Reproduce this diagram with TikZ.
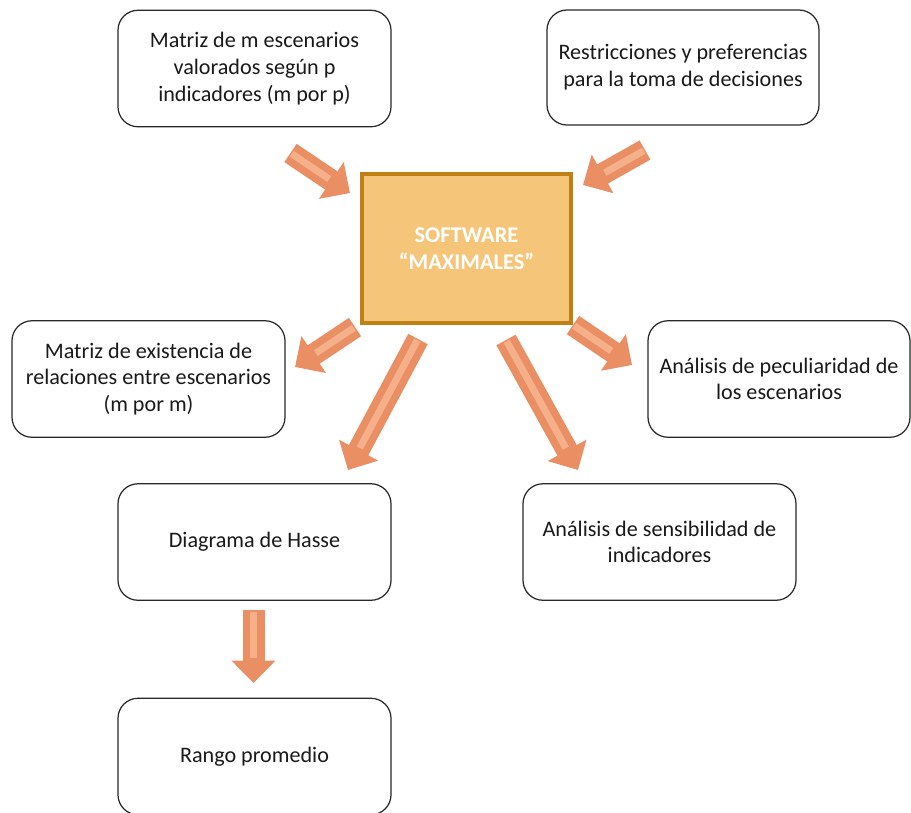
\documentclass[tikz,border=0pt]{standalone}
\usepackage{fontspec}
\setmainfont{Carlito}
\usepackage{tikz}
\usepackage{xcolor}
\usetikzlibrary{positioning,arrows.meta}
\definecolor{boxline}{RGB}{40,40,40}
\definecolor{softfill}{RGB}{245,197,122}
\definecolor{softline}{RGB}{192,128,20}
\definecolor{arrowmain}{RGB}{234,142,100}
\definecolor{arrowlight}{RGB}{245,176,138}
\definecolor{txt}{RGB}{25,25,25}

\tikzset{
  infobox/.style={draw=boxline,line width=0.7pt,rounded corners=0.4cm,minimum width=5.46cm,minimum height=2.33cm,align=center,text=txt,font=\fontsize{12.6}{15.2}\selectfont},
  softbox/.style={draw=softline,fill=softfill,line width=1.8pt,minimum width=4.18cm,minimum height=2.98cm,align=center,text=white,font=\fontsize{12.8}{15.6}\selectfont\bfseries},
  bigarrow/.style={draw=arrowmain,line width=0.44cm,-{Triangle[length=0.45cm,width=0.86cm]}},
  shine/.style={draw=arrowlight,line width=0.14cm,shorten >=0.5cm,shorten <=0.03cm}
}

\begin{document}
\begin{tikzpicture}
\useasboundingbox (0,0) rectangle (18.22,-16.24);

\node[infobox] (mat) at (5.09,-1.37) {Matriz de m escenarios\\valorados según p\\indicadores (m por p)};
\node[infobox,minimum width=5.44cm,minimum height=2.3cm] (res) at (13.66,-1.35) {Restricciones y preferencias\\para la toma de decisiones};
\node[softbox] (soft) at (9.33,-4.97) {SOFTWARE\\“MAXIMALES”};
\node[infobox] (rel) at (2.97,-7.58) {Matriz de existencia de\\relaciones entre escenarios\\(m por m)};
\node[infobox,minimum width=5.24cm] (pec) at (15.58,-7.58) {Análisis de peculiaridad de\\los escenarios};
\node[infobox] (hasse) at (5.09,-10.84) {Diagrama de Hasse};
\node[infobox] (sens) at (13.19,-10.84) {Análisis de sensibilidad de\\indicadores};
\node[infobox] (rango) at (5.09,-15.13) {Rango promedio};

% arrow ends
\coordinate (a1s) at (5.81,-3.06);  \coordinate (a1t) at (7.00,-3.86);
\coordinate (a2s) at (12.90,-3.00); \coordinate (a2t) at (11.66,-3.70);
\coordinate (a3s) at (7.10,-6.54);  \coordinate (a3t) at (5.90,-7.34);
\coordinate (a4s) at (8.36,-6.78);  \coordinate (a4t) at (6.96,-9.40);
\coordinate (a5s) at (10.12,-6.80); \coordinate (a5t) at (11.56,-9.40);
\coordinate (a6s) at (11.46,-6.50); \coordinate (a6t) at (12.64,-7.30);
\coordinate (a7s) at (5.07,-12.20); \coordinate (a7t) at (5.07,-13.66);

\foreach \s/\t in {a1s/a1t,a2s/a2t,a3s/a3t,a4s/a4t,a5s/a5t,a6s/a6t,a7s/a7t}{
  \draw[bigarrow] (\s) -- (\t);
  \draw[shine] (\s) -- (\t);
}
\end{tikzpicture}
\end{document}
